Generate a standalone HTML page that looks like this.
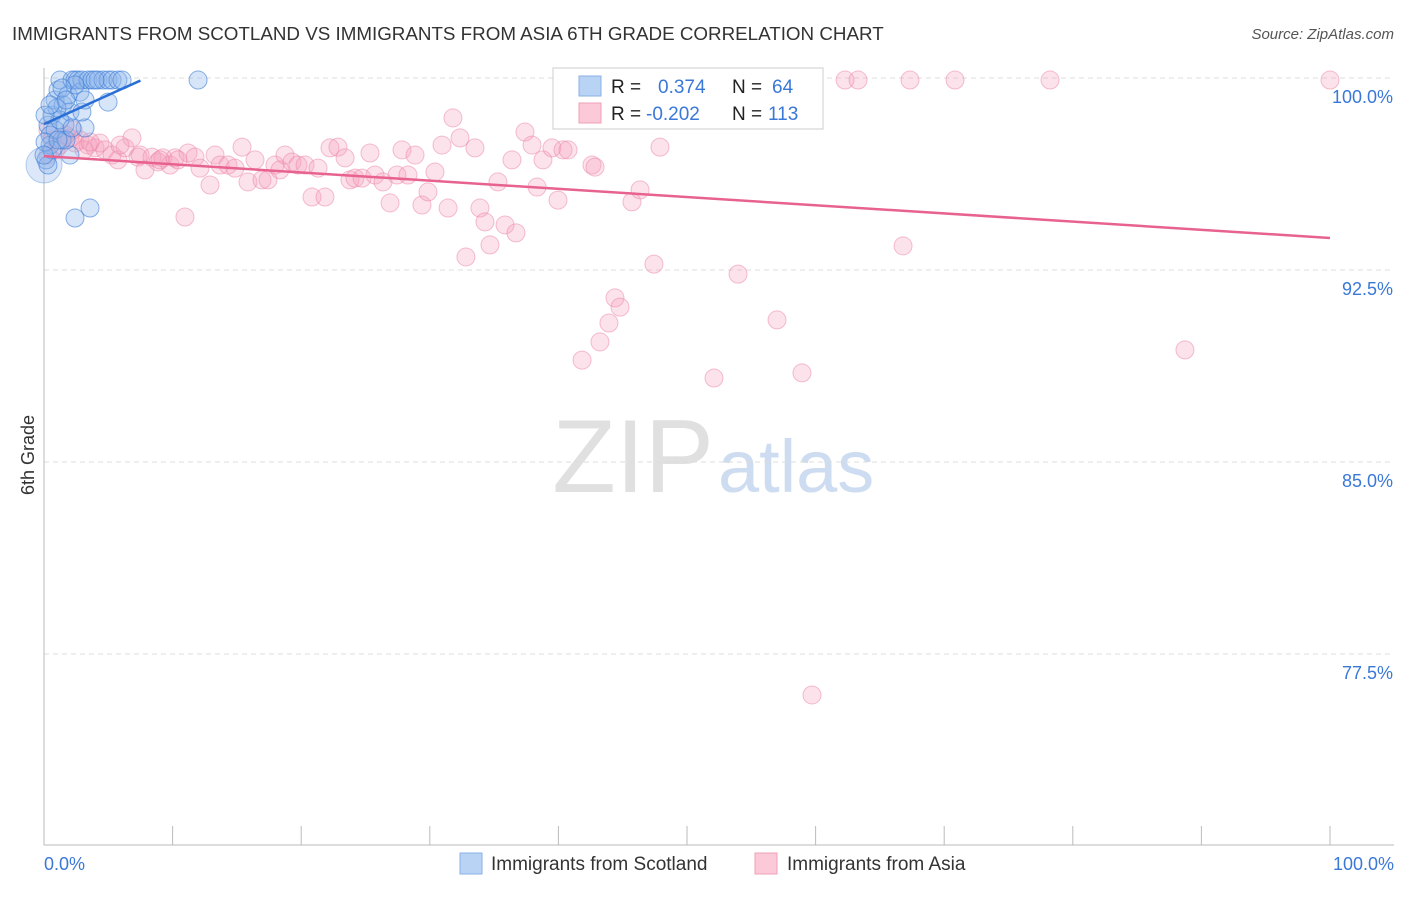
<!DOCTYPE html>
<html><head><meta charset="utf-8"><style>
body{margin:0;background:#fff;font-family:"Liberation Sans",sans-serif}
svg text{font-family:"Liberation Sans",sans-serif}
</style></head><body>
<svg width="1406" height="892">
<text x="12" y="40" font-size="18.8" fill="#333">IMMIGRANTS FROM SCOTLAND VS IMMIGRANTS FROM ASIA 6TH GRADE CORRELATION CHART</text>
<text x="1394" y="39" font-size="15" fill="#555" font-style="italic" text-anchor="end">Source: ZipAtlas.com</text>
<text x="714" y="492" font-size="104" fill="#e0e0e0" font-family="Liberation Serif" text-anchor="end">ZIP</text>
<text x="718" y="492" font-size="74" fill="#cddcf0">atlas</text>
<g id="grid"></g><g id="axes"></g><g id="pts"></g><g id="lines"></g>
<text transform="translate(34,455) rotate(-90)" font-size="18" fill="#333" text-anchor="middle">6th Grade</text>
<text x="44" y="870" font-size="18" fill="#3a78d8">0.0%</text>
<text x="1394" y="870" font-size="18" fill="#3a78d8" text-anchor="end">100.0%</text>
<g>
<rect x="553" y="68" width="270" height="61" fill="#fff" stroke="#ccc"/>
<rect x="579" y="76" width="22" height="20" fill="#b9d3f5" stroke="#8ab0e8"/>
<rect x="579" y="103" width="22" height="20" fill="#fbc9d8" stroke="#f0a0b8"/>
<text x="611" y="93" font-size="19" fill="#222">R =</text><text x="658" y="93" font-size="19" fill="#3a78d8">0.374</text>
<text x="732" y="93" font-size="19" fill="#222">N =</text><text x="772" y="93" font-size="19" fill="#3a78d8">64</text>
<text x="611" y="120" font-size="19" fill="#222">R =</text><text x="646" y="120" font-size="19" fill="#3a78d8">-0.202</text>
<text x="732" y="120" font-size="19" fill="#222">N =</text><text x="768" y="120" font-size="19" fill="#3a78d8">113</text>
</g>
<g>
<rect x="460" y="853" width="22" height="21" fill="#b9d3f5" stroke="#8ab0e8"/>
<text x="491" y="870" font-size="19" fill="#333">Immigrants from Scotland</text>
<rect x="755" y="853" width="22" height="21" fill="#fbc9d8" stroke="#f0a0b8"/>
<text x="787" y="870" font-size="19" fill="#333">Immigrants from Asia</text>
</g>
</svg>
<script>
const yTicks=[100,92.5,85,77.5];
const yTickLabels=["100.0%","92.5%","85.0%","77.5%"];
const xTicks=[0,10,20,30,40,50,60,70,80,90,100];
const bluePx=[[48,125],[50,135],[52,115],[55,100],[58,90],[60,80],[63,105],[65,125],[68,95],[70,112],[72,80],[75,80],[78,80],[80,92],[82,80],[85,128],[88,80],[92,80],[98,80],[103,80],[108,80],[112,80],[118,80],[122,80],[108,102],[82,112],[75,85],[62,140],[70,155],[75,218],[90,208],[198,80],[46,160],[50,145],[55,130],[60,120],[66,140],[72,128],[48,165],[52,150],[45,142],[57,108],[62,88],[66,100],[85,100],[95,80],[45,115],[50,105],[44,155],[58,140]];
const pinkPx=[[48,155],[52,140],[60,145],[70,138],[75,143],[80,140],[88,145],[95,148],[100,143],[105,150],[112,155],[118,160],[125,148],[132,138],[138,157],[145,170],[152,157],[158,162],[163,158],[170,165],[175,158],[185,217],[188,153],[195,157],[200,168],[210,185],[215,155],[220,165],[228,165],[235,168],[242,147],[248,182],[255,160],[262,180],[268,180],[275,165],[280,170],[285,155],[292,162],[298,165],[305,165],[312,197],[318,168],[325,197],[330,148],[338,147],[345,158],[350,180],[355,178],[362,178],[370,153],[375,175],[383,182],[390,203],[397,175],[402,150],[408,175],[415,155],[422,205],[428,192],[435,172],[442,145],[448,208],[453,118],[460,138],[466,257],[475,148],[480,208],[485,222],[490,245],[498,182],[505,225],[512,160],[516,233],[525,132],[532,145],[537,187],[543,160],[552,148],[558,200],[563,150],[568,150],[592,165],[595,167],[582,360],[600,342],[609,323],[615,298],[620,307],[632,202],[640,190],[654,264],[660,147],[690,120],[714,378],[725,80],[738,274],[777,320],[802,373],[812,695],[845,80],[858,80],[903,246],[910,80],[955,80],[1050,80],[1185,350],[1330,80],[48,130],[56,150],[66,135],[73,130],[84,150],[90,142],[120,145],[140,155],[160,160],[178,160]];
const blueX=bluePx.map(p=>+((p[0]-44)/12.86).toFixed(2)), blueY=bluePx.map(p=>+(100-(p[1]-78)/25.6).toFixed(2));
const pinkX=pinkPx.map(p=>+((p[0]-44)/12.86).toFixed(2)), pinkY=pinkPx.map(p=>+(100-(p[1]-78)/25.6).toFixed(2));
const blueTrend=[[0,98.2],[7.5,99.9]];
const pinkTrend=[[0,96.95],[100,93.75]];
const NS="http://www.w3.org/2000/svg";
const X=v=>44+v*12.86, Y=v=>78+(100-v)*25.6;
function mk(t,a,parent){const e=document.createElementNS(NS,t);for(const k in a)e.setAttribute(k,a[k]);document.getElementById(parent).appendChild(e);return e;}
yTicks.forEach((t,i)=>{
 const g=mk('line',{x1:44,x2:1394,y1:Y(t),y2:Y(t),stroke:'#ddd','stroke-dasharray':'5,4'},'grid');
 
 
 const l=mk('text',{x:1393,y:Y(t)+25,'font-size':18,fill:'#3a78d8','text-anchor':'end'},'grid');
 l.textContent=yTickLabels[i];
 
 
});
const ax=mk('line',{x1:44,x2:44,y1:68,y2:845,stroke:'#bbb'},'axes');


const bx=mk('line',{x1:44,x2:1394,y1:845,y2:845,stroke:'#bbb'},'axes');


xTicks.forEach(t=>{const e=mk('line',{x1:X(t),x2:X(t),y1:826,y2:845,stroke:'#bbb'},'axes');
 
 });
pinkX.forEach((x,i)=>{const c=mk('circle',{cx:X(x),cy:Y(pinkY[i]),r:9,fill:'rgba(246,160,190,0.3)',stroke:'rgba(235,130,165,0.5)'},'pts');
 
 });
const big=mk('circle',{cx:X(0),cy:Y(96.6),r:18,fill:'rgba(140,180,235,0.3)',stroke:'rgba(80,140,220,0.4)'},'pts');


blueX.forEach((x,i)=>{const c=mk('circle',{cx:X(x),cy:Y(blueY[i]),r:9,fill:'rgba(140,180,235,0.35)',stroke:'rgba(60,125,215,0.6)'},'pts');
 
 });
const bl=mk('line',{x1:X(blueTrend[0][0]),y1:Y(blueTrend[0][1]),x2:X(blueTrend[1][0]),y2:Y(blueTrend[1][1]),stroke:'#2a6fd6','stroke-width':2.5},'lines');


const pl=mk('line',{x1:X(pinkTrend[0][0]),y1:Y(pinkTrend[0][1]),x2:X(pinkTrend[1][0]),y2:Y(pinkTrend[1][1]),stroke:'#e8628f','stroke-width':2.5},'lines');


</script>
</body></html>
